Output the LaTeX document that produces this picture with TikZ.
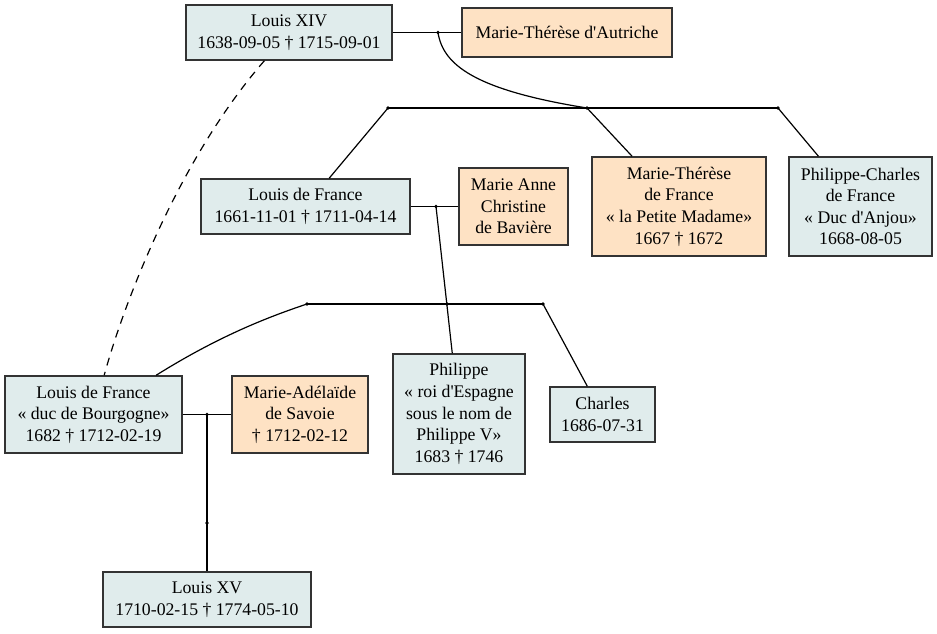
\documentclass[tikz,border=0pt]{standalone}
\usepackage{fontspec}
\setmainfont{Liberation Serif}[Ligatures=TeXOff]
\definecolor{bluefill}{RGB}{224,236,236}
\definecolor{orangefill}{RGB}{254,226,196}
\definecolor{bordercol}{RGB}{51,51,51}
\tikzset{
  person/.style={draw=bordercol, line width=1.1pt, rectangle, inner sep=0pt, align=center,
    font=\fontsize{13.3}{16.2}\selectfont},
  male/.style={person, fill=bluefill},
  female/.style={person, fill=orangefill},
  link/.style={line width=0.9pt, black},
  dotmark/.style={fill=black}
}
\begin{document}
\begin{tikzpicture}[x=0.75pt, y=-0.75pt]
\useasboundingbox (0,0) rectangle (937,633);
% nodes
\node[male, minimum width=154.5pt, minimum height=41.25pt] (lxiv) at (289,32.5) {Louis XIV\\1638-09-05 † 1715-09-01};
\node[female, minimum width=157.5pt, minimum height=36.75pt] (mta) at (567,32.5) {Marie-Thérèse d'Autriche};
\node[male, minimum width=156.75pt, minimum height=41.25pt] (ldf) at (305.5,206.5) {Louis de France\\1661-11-01 † 1711-04-14};
\node[female, minimum width=81.75pt, minimum height=57.75pt] (mab) at (513.5,206.5) {Marie Anne\\Christine\\de Bavière};
\node[female, minimum width=130.5pt, minimum height=74.25pt] (mtf) at (679,206.5) {Marie-Thérèse\\de France\\« la Petite Madame»\\1667 † 1672};
\node[male, minimum width=107.25pt, minimum height=74.25pt] (pcf) at (860.5,206.5) {Philippe-Charles\\de France\\« Duc d'Anjou»\\1668-08-05};
\node[male, minimum width=132.75pt, minimum height=57.75pt] (ldb) at (93.5,414.5) {Louis de France\\« duc de Bourgogne»\\1682 † 1712-02-19};
\node[female, minimum width=102pt, minimum height=57.75pt] (mas) at (300,414.5) {Marie-Adélaïde\\de Savoie\\† 1712-02-12};
\node[male, minimum width=99pt, minimum height=90pt] (phi) at (459,414) {Philippe\\« roi d'Espagne\\sous le nom de\\Philippe V»\\1683 † 1746};
\node[male, minimum width=78.75pt, minimum height=41.25pt] (cha) at (602.5,414.5) {Charles\\1686-07-31};
\node[male, minimum width=156pt, minimum height=41.25pt] (lxv) at (207,599.5) {Louis XV\\1710-02-15 † 1774-05-10};
% junction coordinates
\coordinate (m1) at (438,32.5);
\coordinate (g1a) at (388,108);
\coordinate (g1b) at (587,108);
\coordinate (g1c) at (778,108);
\coordinate (m2) at (436,206.5);
\coordinate (g2a) at (307,304);
\coordinate (g2b) at (447,304);
\coordinate (g2c) at (543,304);
\coordinate (m3) at (207,414.5);
\coordinate (m3b) at (207,523);
% marriages
\draw[link] (lxiv.east) -- (mta.west);
\draw[link] (ldf.east) -- (mab.west);
\draw[link] (ldb.east) -- (mas.west);
% children of Louis XIV
\draw[link] (m1) .. controls (443,65) and (475,90) .. (g1b);
\draw[link] (g1a) -- (g1c);
\draw[link] (g1a) -- (ldf);
\draw[link] (g1b) -- (mtf);
\draw[link] (g1c) -- (pcf);
% children of Louis de France
\draw[link] (m2) -- (phi);
\draw[link] (g2a) -- (g2c);
\draw[link] (g2a) .. controls (265,318) and (216.5,337.5) .. (ldb);
\draw[link] (g2c) -- (cha);
% Louis XV
\draw[link] (m3) -- (lxv);
% dashed
\draw[link, dashed, dash pattern=on 6pt off 5pt] (lxiv) .. controls (181,156.25) and (125,299) .. (ldb);
% dots
\foreach \p in {m1,g1a,g1b,g1c,m2,g2a,g2b,g2c,m3,m3b} \fill[dotmark] (\p) circle[radius=1.4pt];
\end{tikzpicture}
\end{document}
